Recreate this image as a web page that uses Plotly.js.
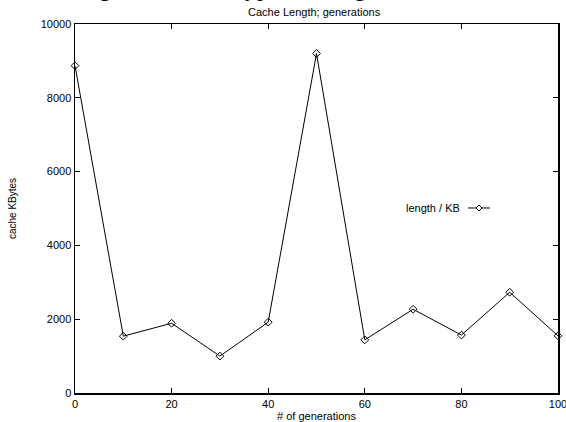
<!DOCTYPE html>
<html>
<head>
<meta charset="utf-8">
<script src="https://cdn.plot.ly/plotly-3.0.1.min.js"></script>
<style>html,body{margin:0;padding:0;background:#fff;}#chart{width:566px;height:422px;}</style>
</head>
<body>
<div id="chart"></div>
<script>
// Data
var generations = [0, 10, 20, 30, 40, 50, 60, 70, 80, 90, 100];
var lengthKB = [8870, 1540, 1890, 1000, 1920, 9200, 1440, 2270, 1570, 2730, 1550];
var xTicks = [0, 20, 40, 60, 80, 100];
var yTicks = [0, 2000, 4000, 6000, 8000, 10000];
var seriesName = 'length / KB';

var font = {family: 'Liberation Sans, Arial, sans-serif', size: 11, color: '#000'};

var trace = {
  x: generations, y: lengthKB, type: 'scatter', mode: 'lines+markers',
  name: seriesName,
  line: {color: '#000', width: 1},
  marker: {symbol: 'diamond-open', size: 6, color: '#000', line: {width: 1, color: '#000'}},
  showlegend: false,
  cliponaxis: false
};

// legend key (gnuplot style: text left, sample right)
var kx0 = 0.8137, kx1 = 0.8592, kxm = 0.8364, ky = 0.5014, dx = 0.0062, dy = 0.0081;
var serif = {family: 'Liberation Serif, serif', size: 24, color: '#000'};
var capY = 1.139;

var layout = {
  width: 566, height: 422,
  margin: {l: 75, r: 8, t: 24, b: 29, pad: 0},
  paper_bgcolor: '#fff', plot_bgcolor: '#fff',
  font: font,
  title: {text: 'Cache Length; generations', font: {family: font.family, size: 11, color: '#000'},
          x: 0.555, xanchor: 'center', y: 0.972, yanchor: 'middle'},
  xaxis: {
    range: [0, 100], tickvals: xTicks, ticktext: xTicks.map(String),
    ticks: 'inside', ticklen: 5, tickcolor: '#000', tickwidth: 1,
    showline: true, linecolor: '#000', linewidth: 1.5, mirror: 'ticks',
    showgrid: false, zeroline: false, automargin: false,
    ticklabeloverflow: 'allow',
    tickfont: font,
    title: {text: '# of generations', font: font, standoff: 3}
  },
  yaxis: {
    range: [0, 10000], tickvals: yTicks, ticktext: yTicks.map(String),
    ticks: 'inside', ticklen: 5, tickcolor: '#000', tickwidth: 1,
    showline: true, linecolor: '#000', linewidth: 1.5, mirror: 'ticks',
    showgrid: false, zeroline: false, automargin: false,
    ticklabeloverflow: 'allow',
    tickfont: font,
    title: {text: 'cache KBytes', font: {family: font.family, size: 10, color: '#000'}, standoff: 22}
  },
  annotations: [
    {xref: 'paper', yref: 'paper', x: 0.8012, y: ky, xanchor: 'right', yanchor: 'middle',
     text: seriesName, showarrow: false, font: font},
    {xref: 'paper', yref: 'paper', x: (105 - 75) / 483, y: capY, xanchor: 'center', yanchor: 'top',
     text: 'g', showarrow: false, font: serif},
    {xref: 'paper', yref: 'paper', x: (257 - 75) / 483, y: capY, xanchor: 'center', yanchor: 'top',
     text: 'yp', showarrow: false, font: serif},
    {xref: 'paper', yref: 'paper', x: (360 - 75) / 483, y: capY, xanchor: 'center', yanchor: 'top',
     text: 'g', showarrow: false, font: serif}
  ],
  shapes: [
    {type: 'line', xref: 'paper', yref: 'paper', x0: kx0, x1: kx1, y0: ky, y1: ky,
     line: {color: '#000', width: 1}},
    {type: 'path', xref: 'paper', yref: 'paper',
     path: 'M ' + (kxm - dx) + ' ' + ky + ' L ' + kxm + ' ' + (ky + dy) + ' L ' + (kxm + dx) + ' ' + ky +
           ' L ' + kxm + ' ' + (ky - dy) + ' Z',
     fillcolor: '#fff', line: {color: '#000', width: 1}}
  ]
};

Plotly.newPlot('chart', [trace], layout, {displayModeBar: false, staticPlot: true});
</script>
</body>
</html>
